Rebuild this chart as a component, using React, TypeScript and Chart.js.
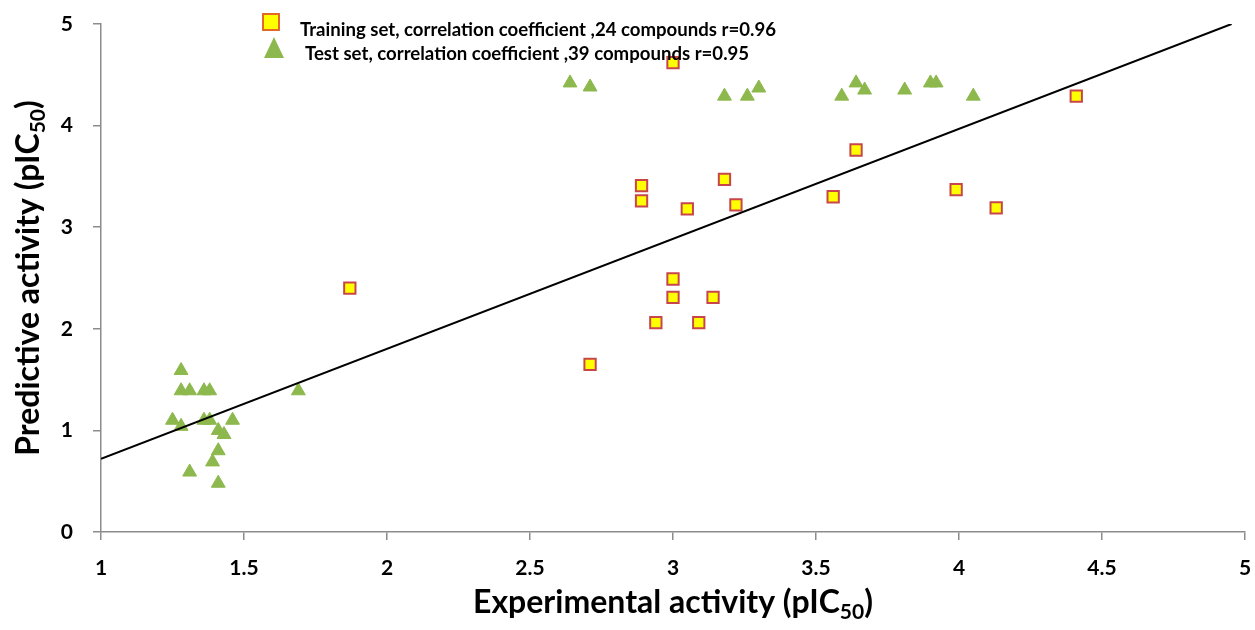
import React, { useEffect, useRef } from 'react';
import { Chart, registerables } from 'chart.js';

Chart.register(...registerables);

// ---------- data ----------
const trainingX = [1.87, 2.71, 2.89, 2.89, 2.94, 3.0, 3.0, 3.0, 3.05, 3.09, 3.14, 3.18, 3.22, 3.56, 3.64, 3.99, 4.13, 4.41];
const trainingY = [2.40, 1.65, 3.41, 3.26, 2.06, 4.62, 2.49, 2.31, 3.18, 2.06, 2.31, 3.47, 3.22, 3.30, 3.76, 3.37, 3.19, 4.29];

const testX = [1.25, 1.28, 1.28, 1.28, 1.31, 1.31, 1.36, 1.36, 1.38, 1.38, 1.39, 1.41, 1.41, 1.41, 1.43, 1.46, 1.69,
  2.64, 2.71, 3.18, 3.26, 3.30, 3.59, 3.64, 3.67, 3.81, 3.90, 3.92, 4.05];
const testY = [1.10, 1.59, 1.39, 1.04, 1.39, 0.59, 1.39, 1.10, 1.39, 1.10, 0.69, 1.00, 0.80, 0.48, 0.96, 1.10, 1.39,
  4.42, 4.38, 4.29, 4.29, 4.37, 4.29, 4.42, 4.35, 4.35, 4.42, 4.42, 4.29];

const fitX = [1, 4.953];
const fitY = [0.72, 5];

const xTicks = [1, 1.5, 2, 2.5, 3, 3.5, 4, 4.5, 5];
const yTicks = [0, 1, 2, 3, 4, 5];

const trainingLabel = 'Training set, correlation coefficient ,24 compounds r=0.96';
const testLabel = 'Test set, correlation coefficient ,39 compounds r=0.95';
const xTitleParts = ['Experimental activity (pIC', '50', ')'];
const yTitleParts = ['Predictive activity (pIC', '50', ')'];

// ---------- styles ----------
const FONT = 'Lato, "Open Sans", sans-serif';
const GREEN = '#8DB84D';
const YELLOW = '#FFFF00';
const RED = '#C8464B';
const AXIS = '#8C8C8C';

function drawSubTitle(ctx: CanvasRenderingContext2D, parts: string[], cx: number, baseY: number) {
  const main = `bold 32px ${FONT}`;
  const sub = `bold 21px ${FONT}`;
  ctx.font = main;
  const w0 = ctx.measureText(parts[0]).width;
  const w2 = ctx.measureText(parts[2]).width;
  ctx.font = sub;
  const w1 = ctx.measureText(parts[1]).width;
  let x = cx - (w0 + w1 + w2) / 2;
  ctx.textAlign = 'left';
  ctx.textBaseline = 'alphabetic';
  ctx.fillStyle = '#000';
  ctx.font = main;
  ctx.fillText(parts[0], x, baseY);
  x += w0;
  ctx.font = sub;
  ctx.fillText(parts[1], x, baseY + 6);
  x += w1;
  ctx.font = main;
  ctx.fillText(parts[2], x, baseY);
}

const decorPlugin = {
  id: 'decor',
  afterDraw(chart: any) {
    const ctx: CanvasRenderingContext2D = chart.ctx;
    const area = chart.chartArea;
    ctx.save();
    // axis titles
    drawSubTitle(ctx, xTitleParts, (area.left + area.right) / 2, 613);
    ctx.save();
    ctx.translate(39, (area.top + area.bottom) / 2);
    ctx.rotate(-Math.PI / 2);
    drawSubTitle(ctx, yTitleParts, 0, 0);
    ctx.restore();

    // legend
    const sq = 16;
    ctx.fillStyle = YELLOW;
    ctx.strokeStyle = '#E2692A';
    ctx.lineWidth = 2;
    ctx.fillRect(271 - sq / 2, 22 - sq / 2, sq, sq);
    ctx.strokeRect(271 - sq / 2, 22 - sq / 2, sq, sq);

    ctx.fillStyle = GREEN;
    ctx.beginPath();
    ctx.moveTo(274, 37);
    ctx.lineTo(284, 58);
    ctx.lineTo(264, 58);
    ctx.closePath();
    ctx.fill();

    ctx.fillStyle = '#000';
    ctx.font = `bold 18.6px ${FONT}`;
    ctx.textAlign = 'left';
    ctx.textBaseline = 'alphabetic';
    ctx.fillText(trainingLabel, 300, 36);
    ctx.fillText(testLabel, 305, 60);
    ctx.restore();
  },
};

function zeroPadding(s: any) {
  s.paddingLeft = 0;
  s.paddingRight = 0;
  s.paddingTop = 0;
  s.paddingBottom = 0;
}

export default function App() {
  const ref = useRef<HTMLCanvasElement | null>(null);

  useEffect(() => {
    document.body.style.margin = '0';
    const canvas = ref.current;
    if (!canvas) return;
    const chart = new Chart(canvas, {
      type: 'scatter',
      data: {
        datasets: [
          {
            type: 'line',
            label: 'fit',
            data: fitX.map((x, i) => ({ x, y: fitY[i] })),
            borderColor: '#000',
            borderWidth: 2,
            pointRadius: 0,
            fill: false,
            order: 0,
          } as any,
          {
            label: trainingLabel,
            data: trainingX.map((x, i) => ({ x, y: trainingY[i] })),
            pointStyle: 'rect',
            pointRadius: 8,
            backgroundColor: YELLOW,
            borderColor: RED,
            borderWidth: 2,
            order: 1,
          },
          {
            label: testLabel,
            data: testX.map((x, i) => ({ x, y: testY[i] })),
            pointStyle: 'triangle',
            pointRadius: 8,
            backgroundColor: GREEN,
            borderColor: GREEN,
            borderWidth: 1,
            order: 2,
          },
        ],
      },
      options: {
        responsive: false,
        animation: false,
        devicePixelRatio: 1,
        layout: { padding: { left: 0, top: 24, right: 9, bottom: 0 } },
        plugins: {
          legend: { display: false },
          tooltip: { enabled: false },
          title: { display: false },
        },
        scales: {
          x: {
            type: 'linear',
            min: 1,
            max: 5,
            afterBuildTicks: (s: any) => {
              s.ticks = xTicks.map((v) => ({ value: v }));
            },
            afterFit: (s: any) => {
              s.height = 98;
              zeroPadding(s);
            },
            ticks: {
              callback: (v: any) => String(v),
              font: { family: FONT, size: 21, weight: 'bold' },
              color: '#000',
              padding: 16,
              maxRotation: 0,
            },
            grid: {
              drawOnChartArea: false,
              drawTicks: true,
              tickLength: 8,
              color: AXIS,
              lineWidth: 1.5,
            },
            border: { display: true, color: AXIS, width: 1.5 },
          },
          y: {
            type: 'linear',
            min: 0,
            max: 5,
            afterBuildTicks: (s: any) => {
              s.ticks = yTicks.map((v) => ({ value: v }));
            },
            afterFit: (s: any) => {
              s.width = 101;
              zeroPadding(s);
            },
            ticks: {
              callback: (v: any) => String(v),
              font: { family: FONT, size: 21, weight: 'bold' },
              color: '#000',
              padding: 20,
            },
            grid: {
              drawOnChartArea: false,
              drawTicks: true,
              tickLength: 8,
              color: AXIS,
              lineWidth: 1.5,
            },
            border: { display: true, color: AXIS, width: 1.5 },
          },
        },
      },
      plugins: [decorPlugin],
    } as any);
    return () => chart.destroy();
  }, []);

  return (
    <div style={{ position: 'absolute', left: 0, top: 0, width: 1255, height: 630, background: '#fff' }}>
      <canvas ref={ref} width={1255} height={630} />
    </div>
  );
}
